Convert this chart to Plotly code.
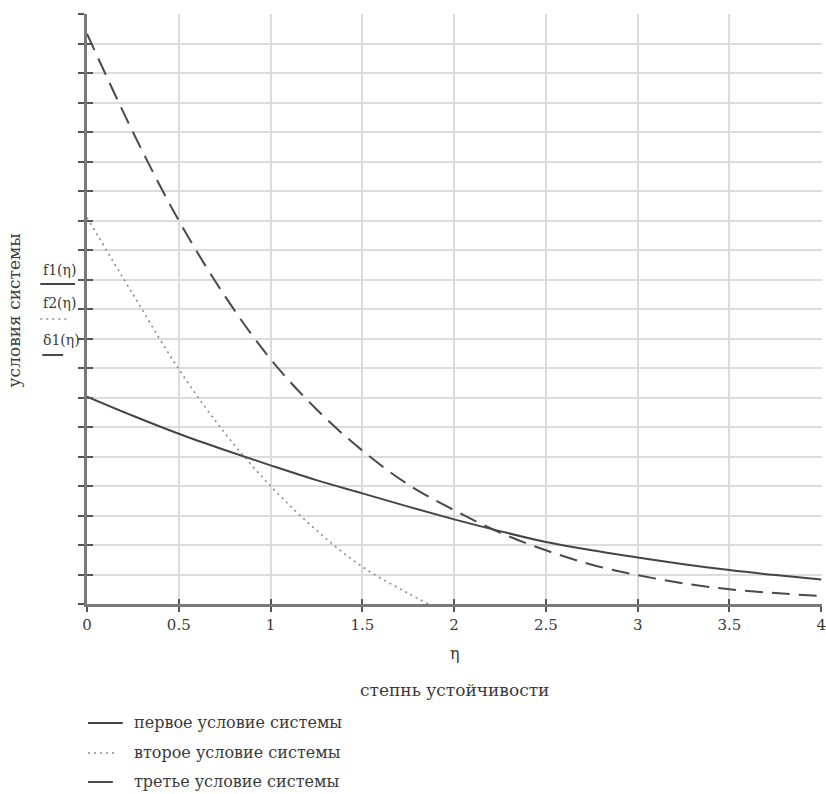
import plotly.graph_objects as go

# ---- data ----
eta = [0, 0.25, 0.5, 0.75, 1.0, 1.25, 1.5, 1.75, 2.0, 2.25, 2.5, 2.75, 3.0, 3.25, 3.5, 3.75, 4.0]
f1 = [7.03, 6.38, 5.77, 5.22, 4.70, 4.20, 3.75, 3.30, 2.87, 2.47, 2.10, 1.82, 1.58, 1.35, 1.15, 0.98, 0.83]
delta1 = [19.33, 16.0, 13.0, 10.45, 8.3, 6.6, 5.2, 4.05, 3.18, 2.42, 1.82, 1.33, 0.98, 0.70, 0.50, 0.37, 0.27]
eta2 = [0, 0.25, 0.5, 0.75, 1.0, 1.25, 1.5, 1.75, 1.86]
f2 = [13.1, 10.5, 7.96, 5.8, 4.0, 2.5, 1.26, 0.36, 0.0]

x_ticks = [0, 0.5, 1, 1.5, 2, 2.5, 3, 3.5, 4]
x_tick_text = ["0", "0.5", "1", "1.5", "2", "2.5", "3", "3.5", "4"]
y_title = "условия системы"
x_sym = "η"
x_title = "степнь устойчивости"
fn_labels = ["f1(η)", "f2(η)", "δ1(η)"]
legend_labels = ["первое условие системы", "второе условие системы", "третье условие системы"]

W, H = 826, 794
ML, MR, MT, MB = 87, 0, 14, 190
PW = W - ML - MR
PH = H - MT - MB

def px(xp):
    return (xp - ML) / PW

def py(yp):
    return (H - MB - yp) / PH

FONT = "DejaVu Serif"
TXT = "#3a3a3a"
SOLID_C = "#444444"
DASH_C = "#4a4a4a"
DOT_C = "#8a8a8a"
X_RANGE = [0, 4.004]
Y_RANGE = [0, 20]

fig = go.Figure()
fig.add_trace(go.Scatter(x=eta, y=f1, mode="lines", line=dict(color=SOLID_C, width=2, shape="spline"), showlegend=False))
fig.add_trace(go.Scatter(x=eta2, y=f2, mode="lines", line=dict(color=DOT_C, width=1.6, dash="2px,4px", shape="spline"), showlegend=False))
fig.add_trace(go.Scatter(x=eta, y=delta1, mode="lines", line=dict(color=DASH_C, width=2, dash="18px,9px", shape="spline"), showlegend=False))
# invisible helper trace so the overlay axes (inner tick halves) are drawn
fig.add_trace(go.Scatter(x=[X_RANGE[0]], y=[Y_RANGE[0]], xaxis="x2", yaxis="y2", mode="markers",
                         marker=dict(size=1, opacity=0), showlegend=False, hoverinfo="skip"))

fig.update_layout(
    xaxis=dict(
        range=X_RANGE, tickvals=x_ticks, ticktext=x_tick_text,
        showgrid=True, gridcolor="#dcdcdc", gridwidth=2,
        showline=True, linecolor="#7a7a7a", linewidth=3,
        ticks="outside", ticklen=5, tickcolor="#555", tickwidth=2,
        zeroline=False, tickfont=dict(family=FONT, size=15, color=TXT),
        ticklabeloverflow="allow",
    ),
    yaxis=dict(
        range=Y_RANGE, dtick=1, tick0=0,
        showgrid=True, gridcolor="#dcdcdc", gridwidth=2,
        showline=True, linecolor="#7a7a7a", linewidth=3,
        ticks="outside", ticklen=6, tickcolor="#555", tickwidth=2,
        zeroline=False, showticklabels=False,
    ),
    xaxis2=dict(
        overlaying="x", anchor="y2", side="bottom", range=X_RANGE, tickvals=x_ticks,
        showgrid=False, showline=False, zeroline=False, showticklabels=False,
        ticks="inside", ticklen=5, tickcolor="#555", tickwidth=2,
    ),
    yaxis2=dict(
        overlaying="y", anchor="x2", side="left", range=Y_RANGE, dtick=1, tick0=0,
        showgrid=False, showline=False, zeroline=False, showticklabels=False,
        ticks="inside", ticklen=6, tickcolor="#555", tickwidth=2,
    ),
)

ann = []
ann.append(dict(x=0.5, y=py(653), xref="paper", yref="paper", text=x_sym, showarrow=False,
                font=dict(family=FONT, size=16, color=TXT), xanchor="center", yanchor="middle"))
ann.append(dict(x=0.5, y=py(690), xref="paper", yref="paper", text=x_title, showarrow=False,
                font=dict(family=FONT, size=17, color=TXT), xanchor="center", yanchor="middle"))
ann.append(dict(x=px(14), y=py(310), xref="paper", yref="paper", text=y_title, showarrow=False,
                textangle=-90, font=dict(family=FONT, size=17, color=TXT), xanchor="center", yanchor="middle"))

label_y = [270, 303, 340]
for lab, yy in zip(fn_labels, label_y):
    ann.append(dict(x=px(41), y=py(yy), xref="paper", yref="paper", text=lab, showarrow=False,
                    font=dict(family=FONT, size=14, color=TXT), xanchor="left", yanchor="middle"))

leg_y = [722, 752, 781]
for lab, yy in zip(legend_labels, leg_y):
    ann.append(dict(x=px(132), y=py(yy), xref="paper", yref="paper", text=lab, showarrow=False,
                    font=dict(family=FONT, size=16, color=TXT), xanchor="left", yanchor="middle"))

shapes = []
# small key lines beside the y-axis labels
shapes.append(dict(type="line", xref="paper", yref="paper", x0=px(40), x1=px(75), y0=py(284), y1=py(284),
                   line=dict(color=SOLID_C, width=2)))
shapes.append(dict(type="line", xref="paper", yref="paper", x0=px(40), x1=px(70), y0=py(319), y1=py(319),
                   line=dict(color=DOT_C, width=1.6, dash="2px,4px")))
shapes.append(dict(type="line", xref="paper", yref="paper", x0=px(42), x1=px(63), y0=py(355), y1=py(355),
                   line=dict(color=DASH_C, width=2)))
# bottom legend keys
shapes.append(dict(type="line", xref="paper", yref="paper", x0=px(88), x1=px(123), y0=py(723), y1=py(723),
                   line=dict(color=SOLID_C, width=2)))
shapes.append(dict(type="line", xref="paper", yref="paper", x0=px(88), x1=px(118), y0=py(753), y1=py(753),
                   line=dict(color=DOT_C, width=1.6, dash="2px,4px")))
shapes.append(dict(type="line", xref="paper", yref="paper", x0=px(88), x1=px(113), y0=py(782), y1=py(782),
                   line=dict(color=DASH_C, width=2)))

fig.update_layout(
    width=W, height=H,
    margin=dict(l=ML, r=MR, t=MT, b=MB, pad=0),
    paper_bgcolor="white", plot_bgcolor="white",
    annotations=ann, shapes=shapes,
    showlegend=False,
)

fig.write_html("out.html")
